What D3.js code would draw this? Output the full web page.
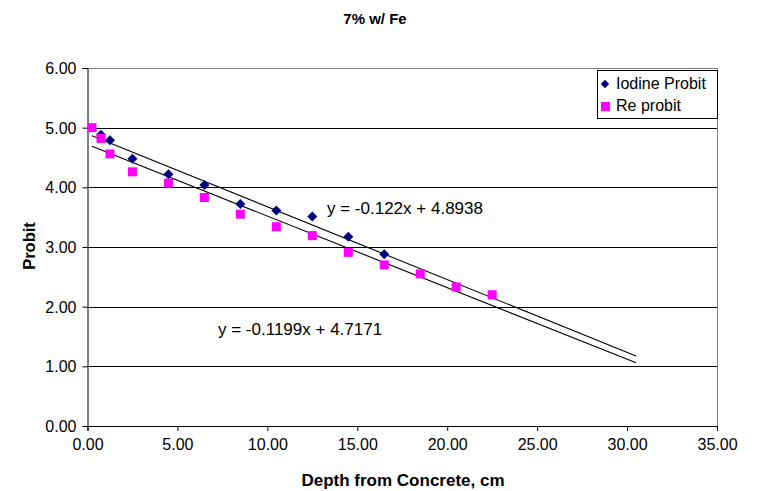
<!DOCTYPE html>
<html><head><meta charset="utf-8">
<script src="https://cdn.jsdelivr.net/npm/d3@7/dist/d3.min.js"></script>
<style>body{margin:0;background:#fff}svg{display:block;font-family:"Liberation Sans",Arial,sans-serif}</style>
</head><body><svg id="c" width="757" height="491"></svg>
<script>
const iodineX = [0.75, 1.25, 2.5, 4.5, 6.5, 8.5, 10.5, 12.5, 14.5, 16.5];
const iodineY = [4.88, 4.79, 4.48, 4.22, 4.04, 3.72, 3.61, 3.51, 3.17, 2.88];
const reX = [0.25, 0.75, 1.25, 2.5, 4.5, 6.5, 8.5, 10.5, 12.5, 14.5, 16.5, 18.5, 20.5, 22.5];
const reY = [5.00, 4.82, 4.56, 4.26, 4.07, 3.83, 3.55, 3.34, 3.19, 2.91, 2.70, 2.55, 2.33, 2.20];
const xTicks = [0, 5, 10, 15, 20, 25, 30, 35];
const yTicks = [0, 1, 2, 3, 4, 5, 6];
const trendIodine = {slope: -0.122, intercept: 4.8938, label: "y = -0.122x + 4.8938"};
const trendRe = {slope: -0.1199, intercept: 4.7171, label: "y = -0.1199x + 4.7171"};
const trendRange = [0.25, 30.5];

const svg = d3.select("#c");
const L = 87.5, R = 717, T = 68, B = 426;
const x = d3.scaleLinear().domain([0, 35]).range([L, R]);
const y = d3.scaleLinear().domain([0, 6]).range([B, T]);

// gridlines
svg.append("g").selectAll("line").data(yTicks.filter(d => d > 0 && d < 6)).join("line")
  .attr("x1", L).attr("x2", R).attr("y1", d => Math.round(y(d)) + 0.5).attr("y2", d => Math.round(y(d)) + 0.5)
  .attr("stroke", "#000").attr("stroke-width", 1);
// plot border (top, right)
svg.append("path").attr("d", `M${L},${T + 0.5}H${R + 0.5}V${B}`).attr("fill", "none").attr("stroke", "#808080");

// axes
const fmt = d3.format(".2f");
const ya = svg.append("g").attr("transform", `translate(${L},0)`)
  .call(d3.axisLeft(y).tickValues(yTicks).tickFormat(fmt).tickSize(5).tickPadding(6));
const xa = svg.append("g").attr("transform", `translate(0,${B})`)
  .call(d3.axisBottom(x).tickValues(xTicks).tickFormat(fmt).tickSize(5).tickPadding(8));
[ya, xa].forEach(a => {
  a.select(".domain").attr("stroke", "#000");
  a.selectAll(".tick line").attr("stroke", "#000");
  a.selectAll("text").attr("font-size", 16).attr("fill", "#000").attr("font-family", "Liberation Sans, Arial, sans-serif");
});
ya.selectAll("text").attr("dy", "0.35em");

// trendlines
[trendIodine, trendRe].forEach(t => {
  svg.append("line")
    .attr("x1", x(trendRange[0])).attr("y1", y(t.slope * trendRange[0] + t.intercept))
    .attr("x2", x(trendRange[1])).attr("y2", y(t.slope * trendRange[1] + t.intercept))
    .attr("stroke", "#000").attr("stroke-width", 1.1);
});

// markers
const diamond = s => `M0,${-s}L${s},0L0,${s}L${-s},0Z`;
svg.append("g").selectAll("path").data(iodineX.map((d, i) => [d, iodineY[i]])).join("path")
  .attr("d", diamond(5)).attr("transform", d => `translate(${x(d[0])},${y(d[1])})`)
  .attr("fill", "#000080");
svg.append("g").selectAll("rect").data(reX.map((d, i) => [d, reY[i]])).join("rect")
  .attr("x", d => x(d[0]) - 4.5).attr("y", d => y(d[1]) - 4.5).attr("width", 9).attr("height", 9)
  .attr("fill", "#FF00FF");

// equation labels
svg.append("text").attr("x", 327).attr("y", 214).attr("font-size", 17).text(trendIodine.label);
svg.append("text").attr("x", 218).attr("y", 335).attr("font-size", 17).text(trendRe.label);

// title and axis titles
svg.append("text").attr("x", 375).attr("y", 24).attr("text-anchor", "middle")
  .attr("font-size", 15).attr("font-weight", "bold").text("7% w/ Fe");
svg.append("text").attr("x", 403).attr("y", 486).attr("text-anchor", "middle")
  .attr("font-size", 17).attr("font-weight", "bold").text("Depth from Concrete, cm");
svg.append("text").attr("transform", "translate(35,246) rotate(-90)").attr("text-anchor", "middle")
  .attr("font-size", 16.5).attr("font-weight", "bold").text("Probit");

// legend
const lg = svg.append("g");
lg.append("rect").attr("x", 597.5).attr("y", 70.5).attr("width", 120).attr("height", 48)
  .attr("fill", "#fff").attr("stroke", "#000");
lg.append("path").attr("d", diamond(4.2)).attr("transform", "translate(605,84)").attr("fill", "#000080");
lg.append("rect").attr("x", 601).attr("y", 102).attr("width", 9).attr("height", 9).attr("fill", "#FF00FF");
lg.append("text").attr("x", 616).attr("y", 89).attr("font-size", 16).text("Iodine Probit");
lg.append("text").attr("x", 616).attr("y", 111).attr("font-size", 16).text("Re probit");
</script></body></html>
